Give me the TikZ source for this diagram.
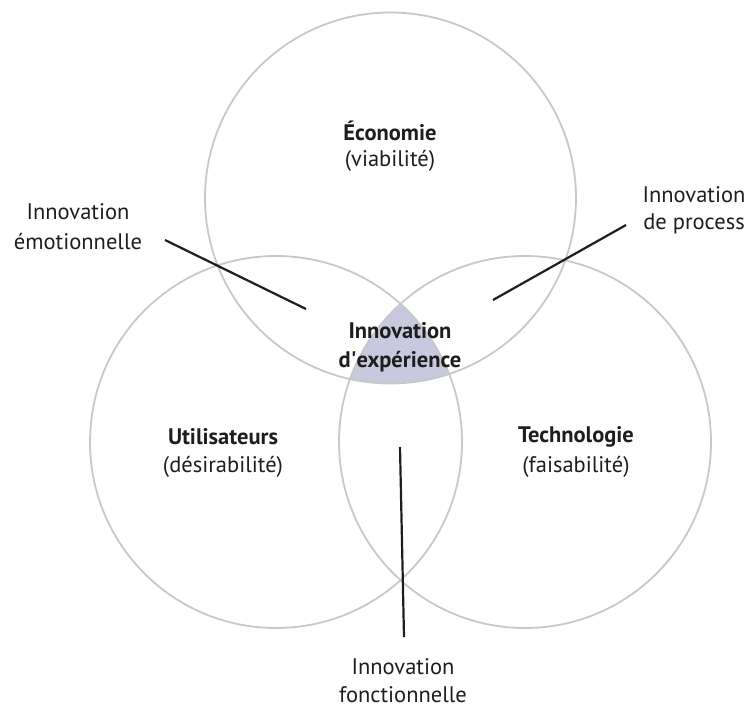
\documentclass[tikz,border=0pt]{standalone}
\usepackage{fontspec}
\setmainfont{PT Sans}
\definecolor{ringgray}{RGB}{200,200,200}
\definecolor{expfill}{RGB}{200,200,222}
\definecolor{ink}{RGB}{30,30,30}
\begin{document}
\begin{tikzpicture}[x=1pt,y=-1pt,
  ring/.style={draw=ringgray,line width=1.8pt},
  lbl/.style={text=ink,font=\fontsize{22.5}{29}\selectfont,align=center,inner sep=0pt},
  blbl/.style={lbl,font=\fontsize{22.5}{29}\selectfont\bfseries},
  leader/.style={draw=ink,line width=2.2pt}]
\useasboundingbox (0,0) rectangle (747,710);
\coordinate (ctop) at (390.5,198);
\coordinate (cleft) at (276,442);
\coordinate (cright) at (525,442);
\begin{scope}
  \clip (ctop) circle (185.5);
  \clip (cleft) circle (186);
  \fill[expfill] (cright) circle (186);
\end{scope}
\draw[ring] (ctop) circle (185.5);
\draw[ring] (cleft) circle (186);
\draw[ring] (cright) circle (186);
% leader lines
\coordinate (emoA) at (165,240);
\coordinate (emoB) at (306,309);
\coordinate (proA) at (626,225);
\coordinate (proB) at (493,300);
\coordinate (fonA) at (400,447);
\coordinate (fonB) at (404,637);
\draw[leader] (emoA) -- (emoB);
\draw[leader] (proA) -- (proB);
\draw[leader] (fonA) -- (fonB);
% labels
\node[blbl] (eco) at (390,131) {Économie};
\node[lbl] (ecos) at (390,161) {(viabilité)};
\node[blbl] (exp) at (400,331) {Innovation};
\node[blbl] (exps) at (400,362) {d\textquotesingle expérience};
\node[blbl] (uti) at (223,437) {Utilisateurs};
\node[lbl] (utis) at (223,467) {(désirabilité)};
\node[blbl] (tec) at (576,437) {Technologie};
\node[lbl] (tecs) at (576,467) {(faisabilité)};
\node[lbl] (emo) at (78,212) {Innovation};
\node[lbl] (emos) at (78,242) {émotionnelle};
\node[lbl] (pro) at (694,195) {Innovation};
\node[lbl] (pros) at (694,224) {de process};
\node[lbl] (fon) at (403,667) {Innovation};
\node[lbl] (fons) at (403,695) {fonctionnelle};
\end{tikzpicture}
\end{document}
